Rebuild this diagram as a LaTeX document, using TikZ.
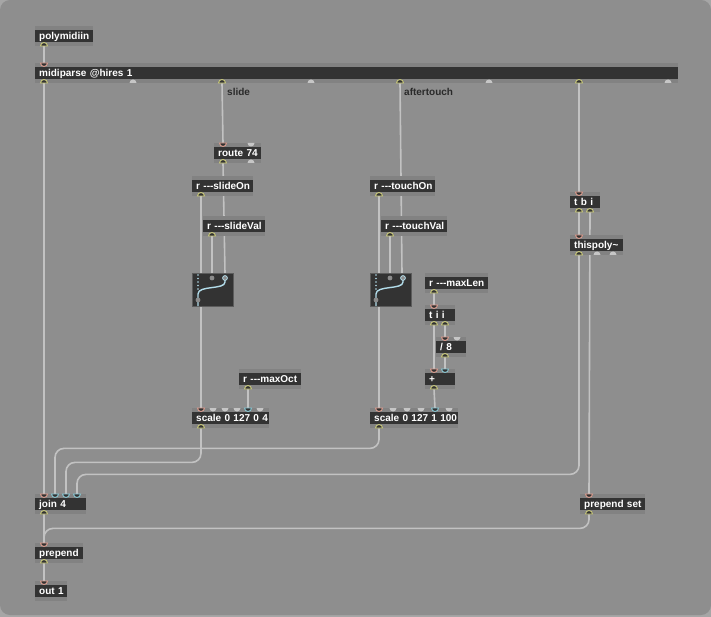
\documentclass[tikz,border=0pt]{standalone}
\usepackage{fontspec}
\setmainfont{Liberation Sans}[Ligatures=TeXOff]
\definecolor{outer}{HTML}{A6A6A6}
\definecolor{panel}{HTML}{8E8E8E}
\definecolor{frame}{HTML}{828282}
\definecolor{boxdark}{HTML}{333333}
\definecolor{cordgray}{HTML}{C2C2C2}
\definecolor{hotin}{HTML}{DC9C8E}
\definecolor{coldin}{HTML}{86C6D2}
\definecolor{outy}{HTML}{C8C87A}
\definecolor{unused}{HTML}{C6C6C6}
\definecolor{swline}{HTML}{B2DCEA}
\definecolor{notetext}{HTML}{2A2A2A}
\pgfdeclarelayer{back}
\pgfdeclarelayer{cords}
\pgfsetlayers{back,cords,main}
\begin{document}
\begin{tikzpicture}[x=1pt,y=-1pt,
	obj/.style={anchor=north west,fill=frame,minimum height=20pt,inner xsep=4pt,inner ysep=0pt,
		text height=7.5pt,text depth=1.5pt,text=white,align=left,
		font=\fontsize{10}{12}\selectfont\bfseries,
		execute at begin node=\hbox to 0pt\bgroup,execute at end node=\hss\egroup,
		path picture={\fill[boxdark] ([yshift=-4pt]path picture bounding box.north west)
			rectangle ([yshift=4pt]path picture bounding box.south east);}},
	swbox/.style={anchor=north west,fill=boxdark,draw=boxdark!80!white,line width=.5pt,
		minimum width=41pt,minimum height=33pt,inner sep=0pt},
	note/.style={anchor=west,inner sep=0pt,text=notetext,font=\fontsize{10}{12}\selectfont\bfseries},
	cord/.style={draw=cordgray,line width=1.6pt,rounded corners=9pt},
	outl/.style={fill=boxdark,draw=outy,line width=.9pt},
	hotl/.style={fill=boxdark,draw=hotin,line width=.9pt},
	coldl/.style={fill=boxdark,draw=coldin,line width=.9pt},
	offl/.style={fill=unused}]
	\useasboundingbox (0,0) rectangle (711,617);
	\begin{pgfonlayer}{back}
		\fill[outer] (0,0) rectangle (711,617);
		\fill[panel,rounded corners=10pt] (0,0) rectangle (711,615);
	\end{pgfonlayer}
	% objects
	\node[obj,text width=50pt] (poly) at (35,26) {polymidiin};
	\node[obj,text width=635pt] (midi) at (35,63) {midiparse @hires 1};
	\node[obj,text width=39pt] (route) at (214,143) {route 74};
	\node[obj,text width=53pt] (slideOn) at (192,176) {r ---slideOn};
	\node[obj,text width=54pt] (slideVal) at (203,216) {r ---slideVal};
	\node[swbox] (swS) at (192,273) {};
	\node[obj,text width=54pt] (maxOct) at (239,369) {r ---maxOct};
	\node[obj,text width=69pt] (scaleS) at (192,408) {scale 0 127 0 4};
	\node[obj,text width=57pt] (touchOn) at (370,176) {r ---touchOn};
	\node[obj,text width=58pt] (touchVal) at (381,216) {r ---touchVal};
	\node[swbox] (swT) at (370,273) {};
	\node[obj,text width=55pt] (maxLen) at (425,273) {r ---maxLen};
	\node[obj,text width=22pt] (tii) at (425,305) {t i i};
	\node[obj,text width=22pt] (div) at (436,337) {/ 8};
	\node[obj,text width=22pt] (plus) at (425,369) {+};
	\node[obj,text width=80pt] (scaleT) at (370,408) {scale 0 127 1 100};
	\node[obj,text width=22pt] (tbi) at (570,192) {t b i};
	\node[obj,text width=45pt] (thispoly) at (570,235) {thispoly\textasciitilde};
	\node[obj,text width=43pt] (join) at (35,494) {join 4};
	\node[obj,text width=57pt] (prepset) at (580,494) {prepend set};
	\node[obj,text width=40pt] (prepend) at (35,543) {prepend};
	\node[obj,text width=24pt] (out) at (35,581) {out 1};
	\node[note] (lslide) at (227,92) {slide};
	\node[note] (lafter) at (404,92) {aftertouch};
	% patch cords, behind the boxes
	\begin{pgfonlayer}{cords}
	\draw[cord] ([xshift=9pt]poly.south west) -- ([xshift=9pt]midi.north west);
	\draw[cord] ([xshift=9pt]midi.south west) -- ([xshift=9pt]join.north west);
	\draw[cord] ([xshift=187pt]midi.south west) -- ([xshift=9pt]route.north west);
	\draw[cord] ([xshift=365pt]midi.south west) -- ([xshift=32pt]swT.north west);
	\draw[cord] ([xshift=544pt]midi.south west) -- ([xshift=9pt]tbi.north west);
	\draw[cord] ([xshift=9pt]route.south west) -- ([xshift=33pt]swS.north west);
	\draw[cord] ([xshift=9pt]slideOn.south west) -- ([xshift=9pt]swS.north west);
	\draw[cord] ([xshift=9pt]slideVal.south west) -- ([xshift=20pt]swS.north west);
	\draw[cord] ([xshift=9pt]swS.south west) -- ([xshift=9pt]scaleS.north west);
	\draw[cord] ([xshift=9pt]maxOct.south west) -- ([xshift=56pt]scaleS.north west);
	\draw[cord] ([xshift=9pt]touchOn.south west) -- ([xshift=9pt]swT.north west);
	\draw[cord] ([xshift=9pt]touchVal.south west) -- ([xshift=20pt]swT.north west);
	\draw[cord] ([xshift=9pt]swT.south west) -- ([xshift=9pt]scaleT.north west);
	\draw[cord] ([xshift=9pt]maxLen.south west) -- ([xshift=9pt]tii.north west);
	\draw[cord] ([xshift=9pt]tii.south west) -- ([xshift=9pt]plus.north west);
	\draw[cord] ([xshift=20pt]tii.south west) -- ([xshift=9pt]div.north west);
	\draw[cord] ([xshift=9pt]div.south west) -- ([xshift=20pt]plus.north west);
	\draw[cord] ([xshift=9pt]plus.south west) -- ([xshift=65pt]scaleT.north west);
	\draw[cord] ([xshift=9pt]tbi.south west) -- ([xshift=9pt]thispoly.north west);
	\draw[cord] ([xshift=20pt]tbi.south west) -- ([xshift=9pt]prepset.north west);
	\draw[cord] ([xshift=9pt]scaleS.south west) -- ++(0,34) -| ([xshift=31pt]join.north west);
	\draw[cord] ([xshift=9pt]scaleT.south west) -- ++(0,20) -| ([xshift=20pt]join.north west);
	\draw[cord] ([xshift=9pt]thispoly.south west) -- ++(0,219) -| ([xshift=42pt]join.north west);
	\draw[cord] ([xshift=9pt]join.south west) -- ([xshift=9pt]prepend.north west);
	\draw[cord] ([xshift=9pt]prepset.south west) -- ++(0,14) -| ([xshift=9pt]prepend.north west);
	\draw[cord] ([xshift=9pt]prepend.south west) -- ([xshift=9pt]out.north west);
	\end{pgfonlayer}
	% ports
	\foreach \x/\y in {44/46,44/83,222/83,400/83,579/83,223/163,201/196,212/236,248/389,201/428,
		379/196,390/236,434/293,434/325,445/325,445/357,434/389,379/428,579/212,590/212,579/255,
		44/514,589/514,44/563}
	\filldraw[outl] (\x-3.5,\y) arc[start angle=180,end angle=0,radius=3.5pt] -- cycle;
	\foreach \x/\y in {133/83,311/83,489/83,668/83,251/163,597/255,613/255}
	\fill[offl] (\x-3.5,\y) arc[start angle=180,end angle=0,radius=3.5pt] -- cycle;
	\foreach \x/\y in {44/63,223/143,201/408,434/305,445/337,434/369,379/408,579/192,579/235,
		44/494,589/494,44/543,44/581}
	\filldraw[hotl] (\x-3.5,\y) arc[start angle=180,end angle=360,radius=3.5pt] -- cycle;
	\foreach \x/\y in {248/408,445/369,435/408,55/494,66/494,77/494}
	\filldraw[coldl] (\x-3.5,\y) arc[start angle=180,end angle=360,radius=3.5pt] -- cycle;
	\foreach \x/\y in {251/143,213/408,225/408,237/408,260/408,457/337,393/408,407/408,421/408,449/408}
	\fill[offl] (\x-3.5,\y) arc[start angle=180,end angle=360,radius=3.5pt] -- cycle;
	% switches
	\foreach \s in {swS,swT}{
		\begin{scope}[shift={(\s.north west)}]
			\foreach \d in {2,5.5,...,16}
			\fill[swline] (6,\d) circle (.8pt);
			\draw[swline,line width=1.4pt] (33,5) -- (33,9) .. controls (33,17) and (6,12) .. (6,21) -- (6,33);
			\fill[unused!70!black] (20,5) circle (2.4pt);
			\filldraw[unused!70!black,draw=swline,line width=.8pt] (33,5) circle (2.4pt);
			\fill[unused!70!black] (6,27) circle (2.4pt);
		\end{scope}
	}
\end{tikzpicture}
\end{document}
